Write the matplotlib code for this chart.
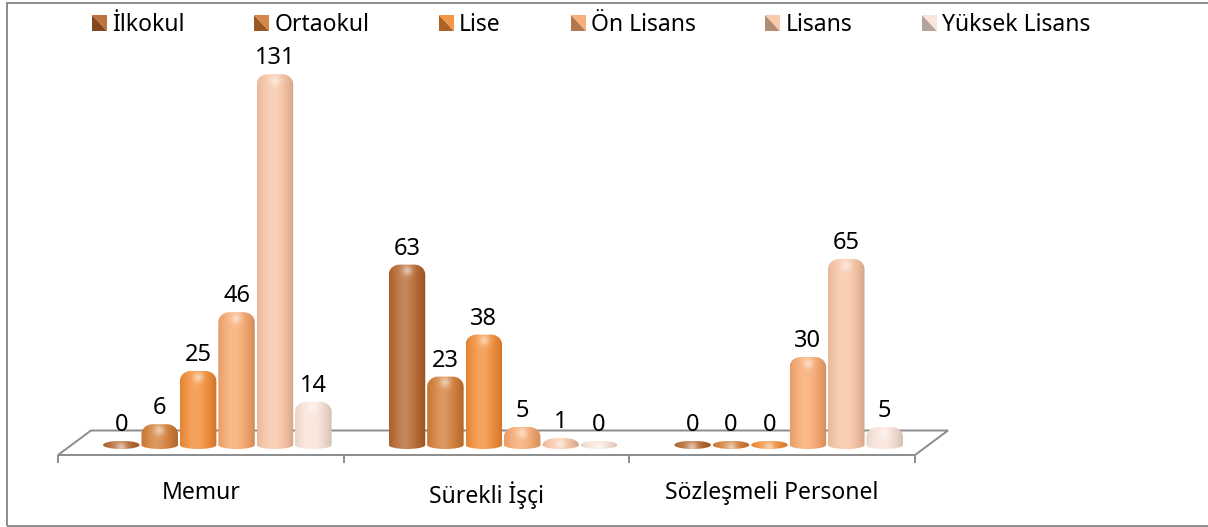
import numpy as np
import matplotlib
matplotlib.use('Agg')
import matplotlib.pyplot as plt
from matplotlib.path import Path
from matplotlib.patches import PathPatch, Polygon, Rectangle
from matplotlib.legend_handler import HandlerBase
from matplotlib.colors import to_rgb

plt.rcParams['font.family'] = ['Noto Sans', 'DejaVu Sans']

categories = ['Memur', 'Sürekli İşçi', 'Sözleşmeli Personel']
levels = ['İlkokul', 'Ortaokul', 'Lise', 'Ön Lisans', 'Lisans', 'Yüksek Lisans']
values = {
    'İlkokul':       [0, 63, 0],
    'Ortaokul':      [6, 23, 0],
    'Lise':          [25, 38, 0],
    'Ön Lisans':     [46, 5, 30],
    'Lisans':        [131, 1, 65],
    'Yüksek Lisans': [14, 0, 5],
}
colors = ['#B4632A', '#D27A32', '#F28A32', '#F7A56A', '#F8C3A3', '#F9E2D6']

W, H = 1208, 527
FS = 16.5
GRAY = '#8C8C8C'

# pixel layout of the floor / plot area
x_left, x_right = 58, 915
y_front, y_base, y_top = 455, 445, 30
px_per_unit = 2.8
y_low = -(y_front - y_base) / px_per_unit
y_high = (y_base - y_top) / px_per_unit
units_per_px_x = 3.0 / (x_right - x_left)

bar_step = 38.4 * units_per_px_x
bar_w = 36.5 * units_per_px_x
depth_shift = 16.5 * units_per_px_x
floor_dx = 33 * units_per_px_x
floor_back = (y_base - 430.5) / px_per_unit
cap_lift = 4 / px_per_unit          # dome sits a little above the value
eb = 4 / px_per_unit                # bottom ellipse half height
k = 0.5523


def cyl_path(xc, w, top):
    x0, x1 = xc - w / 2, xc + w / 2
    ry = min(3.6, top)
    rx = w * (0.5 - 0.2 * min(1.0, top / 3.6))
    verts = [(x0, 0), (x0, top - ry),
             (x0, top - ry + k * ry), (x0 + rx - k * rx, top), (x0 + rx, top),
             (x1 - rx, top),
             (x1 - rx + k * rx, top), (x1, top - ry + k * ry), (x1, top - ry),
             (x1, 0),
             (x1, -k * eb), (xc + k * w / 2, -eb), (xc, -eb),
             (xc - k * w / 2, -eb), (x0, -k * eb), (x0, 0),
             (x0, 0)]
    codes = [Path.MOVETO, Path.LINETO,
             Path.CURVE4, Path.CURVE4, Path.CURVE4,
             Path.LINETO,
             Path.CURVE4, Path.CURVE4, Path.CURVE4,
             Path.LINETO,
             Path.CURVE4, Path.CURVE4, Path.CURVE4,
             Path.CURVE4, Path.CURVE4, Path.CURVE4,
             Path.CLOSEPOLY]
    return Path(verts, codes)


def shade_image(color, top, nx=64, ny=200):
    c = np.array(to_rgb(color))
    t = np.linspace(0, 1, nx)[None, :]
    ys = np.linspace(-eb, top, ny)[:, None]
    light = 0.22 * np.exp(-((t - 0.42) / 0.3) ** 2)
    dark = 0.16 * (np.abs(t - 0.42) / 0.58) ** 2.5
    spot = 0.4 * np.exp(-(((t - 0.5) / 0.14) ** 2 + ((ys - (top - 2.2)) / 1.8) ** 2))
    light = np.clip(light + spot, 0, 1)
    rgb = c[None, None, :] * (1 - dark[..., None])
    rgb = rgb + (1 - rgb) * light[..., None]
    rgb = np.broadcast_to(rgb, (ny, nx, 3))
    return np.clip(rgb, 0, 1)


class SplitSquare(HandlerBase):
    def create_artists(self, legend, orig_handle, xdescent, ydescent,
                       width, height, fontsize, trans):
        c = np.array(to_rgb(orig_handle.get_facecolor()))
        x0, y0 = -xdescent, -ydescent
        x1, y1 = x0 + width, y0 + height
        up = Polygon([(x0, y1), (x1, y1), (x1, y0)], closed=True,
                     facecolor=c + (1 - c) * 0.1, edgecolor='none', transform=trans)
        lo = Polygon([(x0, y1), (x0, y0), (x1, y0)], closed=True,
                     facecolor=c * 0.72, edgecolor='none', transform=trans)
        return [lo, up]


fig = plt.figure(figsize=(W / 100, H / 100), dpi=100)
ax = fig.add_axes([x_left / W, (H - y_front) / H,
                   (x_right - x_left) / W, (y_front - y_top) / H])
ax.set_xlim(-0.5, 2.5)
ax.set_ylim(y_low, y_high)
for s in ax.spines.values():
    s.set_visible(False)

# floor
floor = Polygon([(-0.5, y_low), (2.5, y_low), (2.5 + floor_dx, floor_back),
                 (-0.5 + floor_dx, floor_back)], closed=True, facecolor='none',
                edgecolor=GRAY, linewidth=1.4, zorder=1, clip_on=False)
ax.add_patch(floor)

ax.set_xticks([-0.5, 0.5, 1.5, 2.5])
ax.set_xticklabels([])
ax.tick_params(axis='x', which='major', direction='out', length=6,
               width=1.4, color=GRAY)
ax.set_xticks(range(len(categories)), minor=True)
ax.set_xticklabels(categories, minor=True, fontsize=FS)
ax.tick_params(axis='x', which='minor', length=0, pad=19)
ax.set_yticks([])

handles = []
for j, lev in enumerate(levels):
    for g, v in enumerate(values[lev]):
        xc = g + depth_shift + (j - 2.5) * bar_step
        top = v + cap_lift
        path = cyl_path(xc, bar_w, top)
        patch = PathPatch(path, facecolor='none', edgecolor='none', zorder=3)
        ax.add_patch(patch)
        im = ax.imshow(shade_image(colors[j], top),
                       extent=(xc - bar_w / 2, xc + bar_w / 2, -eb, top),
                       origin='lower', aspect='auto', zorder=3,
                       interpolation='bilinear')
        im.set_clip_path(patch)
        ax.text(xc, top + 3.6, f'{v}', ha='center', va='baseline',
                fontsize=FS + 0.5, color='black', zorder=4)
    handles.append(Rectangle((0, 0), 1, 1, facecolor=colors[j]))

ax.set_xlim(-0.5, 2.5)
ax.set_ylim(y_low, y_high)

fig.legend(handles, levels, loc='center left',
           bbox_to_anchor=(92 / W, 1 - 25 / H), ncol=6, frameon=False,
           fontsize=FS, handlelength=0.65, handleheight=0.65,
           handletextpad=0.22, columnspacing=3.05, borderpad=0,
           borderaxespad=0, handler_map={Rectangle: SplitSquare()})

# chart border
fig.patches.append(Rectangle((7 / W, 1.5 / H), 1.2, (524.5 - 1.5) / H,
                             transform=fig.transFigure, facecolor='none',
                             edgecolor=GRAY, linewidth=1.4))

fig.savefig('out.png', dpi=100)
